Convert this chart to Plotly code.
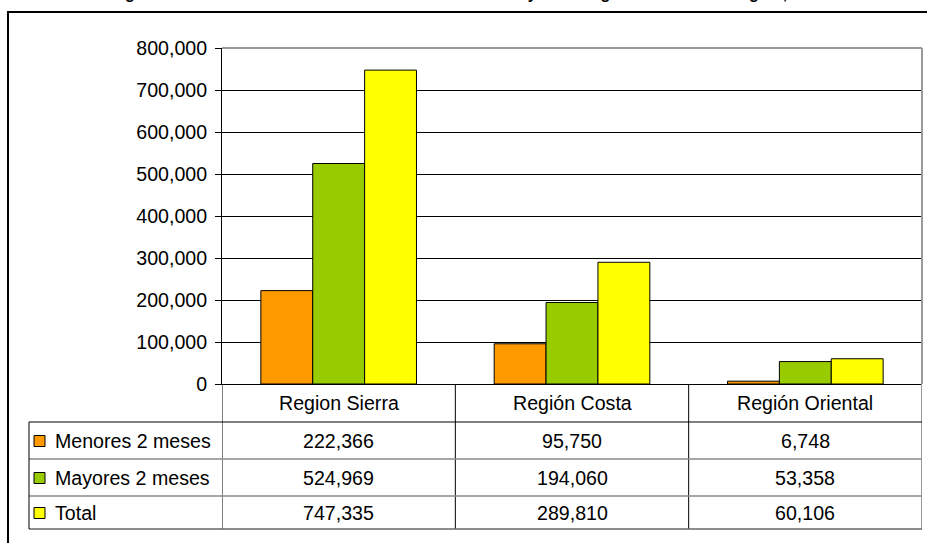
import plotly.graph_objects as go

# ---- data ----
categories = ["Region Sierra", "Región Costa", "Región Oriental"]
series_names = ["Menores 2 meses", "Mayores 2 meses", "Total"]
menores = [222366, 95750, 6748]
mayores = [524969, 194060, 53358]
total = [747335, 289810, 60106]
series_values = [menores, mayores, total]
colors = ["#FF9900", "#99CC00", "#FFFF00"]
title_text = "Diagnóstico de niños atendidos menores de dos meses y edad según la zona de la región, 2008"

W, H = 927, 543
L, R, T, B = 222, 5, 48, 159
PW, PH = W - L - R, H - T - B
FONT = "Liberation Sans, Arial, sans-serif"
FS = 19.6


def px(xp):
    return (xp - L) / PW


def py(yp):
    return (H - B - yp) / PH


fig = go.Figure()
for name, vals, col in zip(series_names, series_values, colors):
    fig.add_trace(go.Bar(
        x=list(range(len(categories))), y=vals, name=name,
        marker=dict(color=col, line=dict(color="black", width=1)),
        showlegend=False, hoverinfo="skip",
    ))

shapes = []
ann = []

# outer frame
shapes.append(dict(type="rect", xref="paper", yref="paper",
                   x0=px(8), x1=px(960), y0=py(12), y1=py(600),
                   line=dict(color="black", width=2), layer="below"))
# plot border top and right (gray)
shapes.append(dict(type="line", xref="paper", yref="paper", x0=0, x1=1, y0=1, y1=1,
                   line=dict(color="#9a9a9a", width=2)))
shapes.append(dict(type="line", xref="paper", yref="paper", x0=1, x1=1, y0=0, y1=1,
                   line=dict(color="#9a9a9a", width=2)))

# data table
row_bot = 529
for i in range(len(categories) + 1):
    xv = i - 0.5
    last = i == len(categories)
    shapes.append(dict(type="line", xref="x", yref="paper", x0=xv, x1=xv,
                       y0=py(384), y1=py(row_bot),
                       line=dict(color="#9a9a9a" if last else "black", width=2 if last else 1)))
shapes.append(dict(type="line", xref="paper", yref="paper", x0=px(29), x1=1,
                   y0=py(422), y1=py(422), line=dict(color="black", width=1)))
for yy in [459, 496]:
    shapes.append(dict(type="line", xref="paper", yref="paper", x0=px(29), x1=1,
                       y0=py(yy), y1=py(yy), line=dict(color="#8a8a8a", width=1.5)))
shapes.append(dict(type="line", xref="paper", yref="paper", x0=px(29), x1=1,
                   y0=py(row_bot), y1=py(row_bot), line=dict(color="#666666", width=1.5)))
shapes.append(dict(type="line", xref="paper", yref="paper", x0=px(29), x1=px(29),
                   y0=py(422), y1=py(row_bot), line=dict(color="black", width=1)))

for i, c in enumerate(categories):
    ann.append(dict(x=i, y=py(403), xref="x", yref="paper", text=c, showarrow=False,
                    font=dict(family=FONT, size=FS, color="black"),
                    xanchor="center", yanchor="middle"))

row_centers = [440.5, 477.5, 512.5]
for r, (name, vals, col) in enumerate(zip(series_names, series_values, colors)):
    yc = row_centers[r]
    shapes.append(dict(type="rect", xref="paper", yref="paper",
                       x0=px(34), x1=px(45), y0=py(yc - 5), y1=py(yc + 6),
                       fillcolor=col, line=dict(color="black", width=1)))
    ann.append(dict(x=px(53), y=py(yc), xref="paper", yref="paper", text=name,
                    showarrow=False, font=dict(family=FONT, size=FS, color="black"),
                    xanchor="left", yanchor="middle"))
    for i, v in enumerate(vals):
        ann.append(dict(x=i, y=py(yc), xref="x", yref="paper", text=f"{v:,}",
                        showarrow=False, font=dict(family=FONT, size=FS, color="black"),
                        xanchor="center", yanchor="middle"))

# title (clipped at the top edge as in the reference)
ann.append(dict(x=px(463.5), y=py(-6.5), xref="paper", yref="paper", text="<b>" + title_text + "</b>",
                showarrow=False, font=dict(family=FONT, size=16, color="black"),
                xanchor="center", yanchor="middle"))

fig.update_layout(
    width=W, height=H, margin=dict(l=L, r=R, t=T, b=B),
    paper_bgcolor="white", plot_bgcolor="white",
    barmode="group", bargap=0.333, bargroupgap=0,
    shapes=shapes, annotations=ann,
    font=dict(family=FONT, size=FS, color="black"),
    xaxis=dict(range=[-0.5, 2.5], showticklabels=False, ticks="", showgrid=False,
               showline=True, linecolor="black", linewidth=1, zeroline=False,
               fixedrange=True),
    yaxis=dict(range=[0, 800000], dtick=100000, tickformat=",d", showgrid=True,
               gridcolor="black", gridwidth=1, showline=True, linecolor="black",
               linewidth=1, ticks="outside", ticklen=6, tickcolor="black",
               zeroline=False, ticklabelstandoff=4,
               tickfont=dict(family=FONT, size=FS, color="black"), fixedrange=True),
)

fig.write_html("out.html")
